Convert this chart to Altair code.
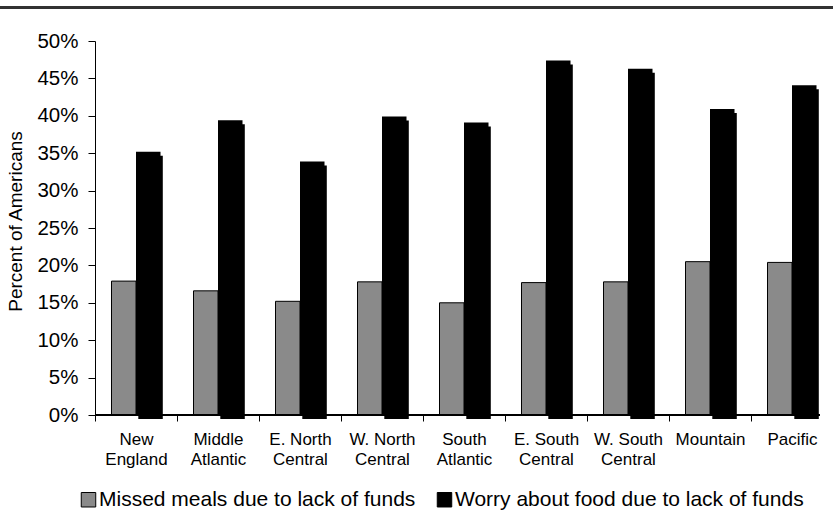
import altair as alt
import pandas as pd

# Census divisions and survey shares (percent of Americans)
regions = [
    "New England", "Middle Atlantic", "E. North Central", "W. North Central",
    "South Atlantic", "E. South Central", "W. South Central", "Mountain", "Pacific",
]
missed_meals = [17.9, 16.6, 15.2, 17.8, 15.0, 17.7, 17.8, 20.5, 20.4]
worry_food = [35.2, 39.4, 33.9, 39.9, 39.1, 47.4, 46.3, 40.9, 44.1]
series_names = [
    "Missed meals due to lack of funds",
    "Worry about food due to lack of funds",
]
y_ticks = [0, 5, 10, 15, 20, 25, 30, 35, 40, 45, 50]

rows = []
for region, m, w in zip(regions, missed_meals, worry_food):
    rows.append({"region": region, "series": series_names[0], "pct": m})
    rows.append({"region": region, "series": series_names[1], "pct": w})
df = pd.DataFrame(rows)

W, H = 738, 374
FONT = "Liberation Sans"
BAR_W = 24.5

x_enc = alt.X(
    "region:N",
    sort=regions,
    scale=alt.Scale(paddingInner=0, paddingOuter=0),
    axis=alt.Axis(
        title=None,
        labelAngle=0,
        domain=False,
        grid=False,
        tickBand="extent",
        tickSize=6,
        tickColor="black",
        labelFont=FONT,
        labelFontSize=17,
        labelColor="black",
        labelPadding=10,
        labelBaseline="top",
        labelLineHeight=20,
        labelExpr=(
            "lastindexof(datum.label, ' ') > 0 ? "
            "[substring(datum.label, 0, lastindexof(datum.label, ' ')), "
            "substring(datum.label, lastindexof(datum.label, ' ') + 1)] : datum.label"
        ),
    ),
)

y_enc = alt.Y(
    "pct:Q",
    scale=alt.Scale(domain=[0, 50], nice=False),
    axis=alt.Axis(
        title="Percent of Americans",
        values=y_ticks,
        grid=False,
        domainColor="black",
        tickColor="black",
        tickSize=7,
        labelFont=FONT,
        labelFontSize=20.5,
        labelColor="black",
        labelPadding=10,
        labelExpr="datum.value + '%'",
        titleFont=FONT,
        titleFontSize=19,
        titleFontWeight="normal",
        titleColor="black",
        titleAngle=-90,
        titleAlign="center",
        titleBaseline="alphabetic",
        titleX=-74,
        titleY=180,
    ),
)

color_enc = alt.Color(
    "series:N",
    scale=alt.Scale(domain=series_names, range=["#8a8a8a", "black"]),
    legend=alt.Legend(
        title=None,
        orient="none",
        direction="horizontal",
        columns=2,
        legendX=-17,
        legendY=448,
        padding=0,
        symbolType="square",
        symbolSize=210,
        symbolStrokeColor="black",
        symbolStrokeWidth=1,
        symbolOpacity=1,
        labelFont=FONT,
        labelFontSize=21,
        labelColor="black",
        labelOffset=0,
        columnPadding=18,
        labelLimit=0,
    ),
)

base = alt.Chart(df)

# rule across the top of the figure
top_rule = alt.Chart(df).mark_rule(color="#333333", strokeWidth=2.5).encode(
    x=alt.value(-95), x2=alt.value(W), y=alt.value(-33.75)
)

# keep the upper edge of the plot area clean
top_edge = alt.Chart(df).mark_rule(color="white", strokeWidth=2).encode(
    x=alt.value(1), x2=alt.value(W), y=alt.value(0)
)

# drop shadow behind the black bars
shadow = base.transform_filter(alt.datum.series == series_names[1]).mark_bar(
    width=BAR_W, xOffset=BAR_W / 2 + 2.3, yOffset=4, color="black"
).encode(x=x_enc, y=y_enc)

missed_bars = base.transform_filter(alt.datum.series == series_names[0]).mark_bar(
    width=BAR_W, xOffset=-BAR_W / 2, stroke="black", strokeWidth=1
).encode(x=x_enc, y=y_enc, color=color_enc)

worry_bars = base.transform_filter(alt.datum.series == series_names[1]).mark_bar(
    width=BAR_W, xOffset=BAR_W / 2
).encode(x=x_enc, y=y_enc, color=color_enc)

# x baseline
baseline = alt.Chart(df).mark_rule(color="black", strokeWidth=1).encode(
    x=alt.value(0), x2=alt.value(725), y=alt.value(H)
)

chart = (
    alt.layer(top_rule, shadow, missed_bars, worry_bars, baseline, top_edge)
    .properties(
        width=W,
        height=H,
        background="white",
        autosize=alt.AutoSizeParams(type="none"),
        padding={"left": 95, "top": 41, "right": 0, "bottom": 98},
    )
    .configure_view(strokeWidth=0)
)

chart.save("out.html", embed_options={"renderer": "svg", "actions": False})
